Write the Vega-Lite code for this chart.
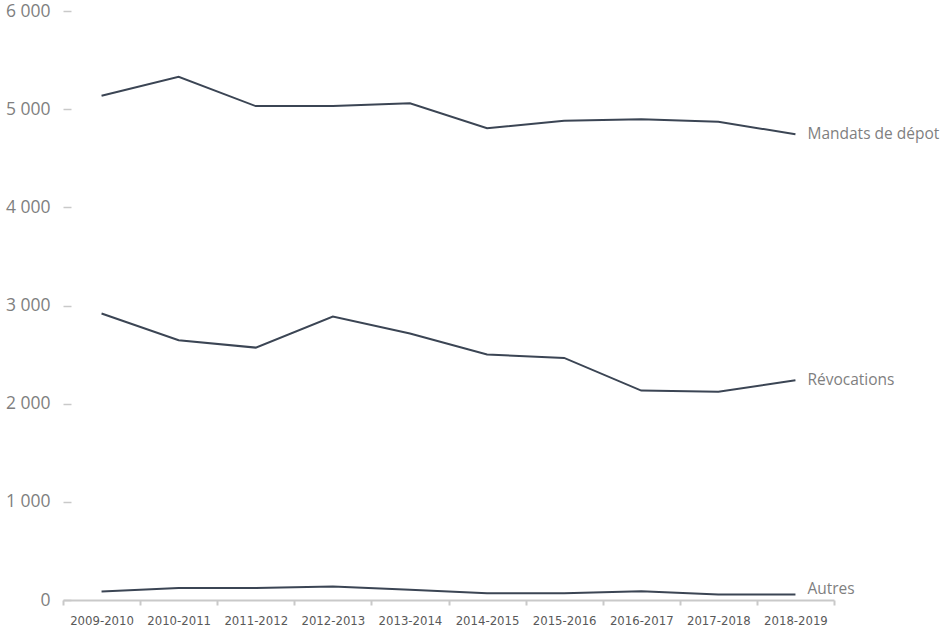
{
  "$schema": "https://vega.github.io/schema/vega-lite/v6.json",
  "autosize": "none",
  "width": 771,
  "height": 589,
  "padding": {"left": 63, "top": 11, "right": 109, "bottom": 42},
  "background": "white",
  "config": {
    "view": {"stroke": null},
    "font": "Open Sans"
  },
  "data": {
    "values": [
      {"annee": "2009-2010", "serie": "Mandats de dépot", "valeur": 5136},
      {"annee": "2010-2011", "serie": "Mandats de dépot", "valeur": 5330},
      {"annee": "2011-2012", "serie": "Mandats de dépot", "valeur": 5031},
      {"annee": "2012-2013", "serie": "Mandats de dépot", "valeur": 5031},
      {"annee": "2013-2014", "serie": "Mandats de dépot", "valeur": 5061},
      {"annee": "2014-2015", "serie": "Mandats de dépot", "valeur": 4806},
      {"annee": "2015-2016", "serie": "Mandats de dépot", "valeur": 4881},
      {"annee": "2016-2017", "serie": "Mandats de dépot", "valeur": 4898},
      {"annee": "2017-2018", "serie": "Mandats de dépot", "valeur": 4871},
      {"annee": "2018-2019", "serie": "Mandats de dépot", "valeur": 4745},
      {"annee": "2009-2010", "serie": "Révocations", "valeur": 2918},
      {"annee": "2010-2011", "serie": "Révocations", "valeur": 2646},
      {"annee": "2011-2012", "serie": "Révocations", "valeur": 2571},
      {"annee": "2012-2013", "serie": "Révocations", "valeur": 2888},
      {"annee": "2013-2014", "serie": "Révocations", "valeur": 2714},
      {"annee": "2014-2015", "serie": "Révocations", "valeur": 2500},
      {"annee": "2015-2016", "serie": "Révocations", "valeur": 2466},
      {"annee": "2016-2017", "serie": "Révocations", "valeur": 2133},
      {"annee": "2017-2018", "serie": "Révocations", "valeur": 2122},
      {"annee": "2018-2019", "serie": "Révocations", "valeur": 2238},
      {"annee": "2009-2010", "serie": "Autres", "valeur": 87},
      {"annee": "2010-2011", "serie": "Autres", "valeur": 122},
      {"annee": "2011-2012", "serie": "Autres", "valeur": 122},
      {"annee": "2012-2013", "serie": "Autres", "valeur": 138},
      {"annee": "2013-2014", "serie": "Autres", "valeur": 104},
      {"annee": "2014-2015", "serie": "Autres", "valeur": 68},
      {"annee": "2015-2016", "serie": "Autres", "valeur": 70},
      {"annee": "2016-2017", "serie": "Autres", "valeur": 88},
      {"annee": "2017-2018", "serie": "Autres", "valeur": 55},
      {"annee": "2018-2019", "serie": "Autres", "valeur": 55}
    ]
  },
  "encoding": {
    "x": {
      "field": "annee",
      "type": "ordinal",
      "sort": null,
      "title": null,
      "scale": {"type": "band", "paddingInner": 0, "paddingOuter": 0},
      "axis": {
        "labelAngle": 0,
        "labelFont": "'DejaVu Sans Condensed', 'Liberation Sans Narrow', Roboto, sans-serif",
        "labelFontSize": 13,
        "labelColor": "#595959",
        "labelPadding": 9,
        "tickBand": "extent",
        "tickSize": 5,
        "tickColor": "#c9c9c9",
        "tickWidth": 2,
        "domainColor": "#c9c9c9",
        "domainWidth": 2,
        "grid": false
      }
    },
    "y": {
      "field": "valeur",
      "type": "quantitative",
      "title": null,
      "scale": {"domain": [0, 6000], "nice": false},
      "axis": {
        "values": [0, 1000, 2000, 3000, 4000, 5000, 6000],
        "format": ",d",
        "labelExpr": "replace(datum.label, ',', ' ')",
        "labelFont": "Open Sans",
        "labelFontSize": 17.5,
        "labelColor": "#7f7f7f",
        "labelPadding": 13,
        "domain": false,
        "grid": false,
        "offset": -8,
        "tickSize": 8,
        "tickColor": "#c9c9c9",
        "tickWidth": 1.5
      }
    }
  },
  "layer": [
    {
      "mark": {"type": "line", "color": "#3b4554", "strokeWidth": 2},
      "encoding": {"detail": {"field": "serie"}}
    },
    {
      "transform": [{"filter": "datum.annee == '2018-2019' && datum.serie != 'Autres'"}],
      "mark": {
        "type": "text",
        "align": "left",
        "baseline": "middle",
        "dx": 12,
        "fontSize": 15.5,
        "color": "#7f7f7f",
        "font": "Open Sans"
      },
      "encoding": {"text": {"field": "serie"}}
    },
    {
      "transform": [{"filter": "datum.annee == '2018-2019' && datum.serie == 'Autres'"}],
      "mark": {
        "type": "text",
        "align": "left",
        "baseline": "middle",
        "dx": 12,
        "dy": -6,
        "fontSize": 15.5,
        "color": "#7f7f7f",
        "font": "Open Sans"
      },
      "encoding": {"text": {"field": "serie"}}
    }
  ]
}
